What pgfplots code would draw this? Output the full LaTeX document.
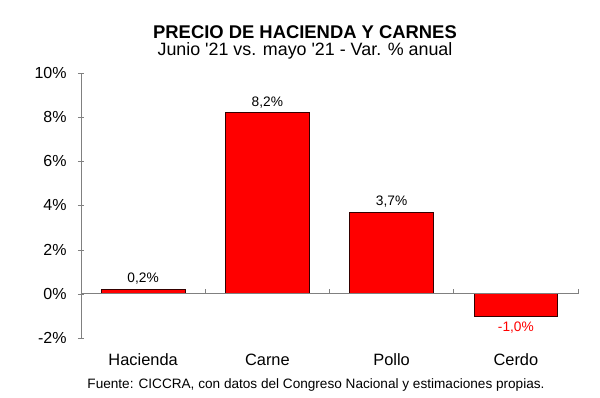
\documentclass[border=0pt]{standalone}
\usepackage{pgfplots}
\pgfplotsset{compat=1.18}
\usepackage{fontspec}
\setmainfont{Liberation Sans}
\definecolor{barred}{RGB}{255,0,0}
\definecolor{axgray}{RGB}{128,128,128}
\begin{document}
\begin{tikzpicture}
\path[use as bounding box] (0pt,0pt) rectangle (450pt,298.5pt);
\begin{axis}[
  at={(60.75pt,45pt)}, anchor=south west,
  scale only axis, width=372.75pt, height=198.75pt,
  xmin=-0.5, xmax=3.5, ymin=-2, ymax=10,
  xtick={0,1,2,3}, xticklabels={Hacienda,Carne,Pollo,Cerdo},
  major x tick style={draw=none},
  ytick={-2,0,2,4,6,8,10},
  yticklabel={\pgfmathprintnumber{\tick}\%},
  /pgf/number format/assume math mode=true,
  axis y line=left, axis x line=bottom,
  x axis line style={draw=none},
  y axis line style={axgray,-}, 
  ytick style={axgray},
  major tick length=4.5pt,
  y tick label style={font=\fontsize{12}{14}\selectfont, xshift=-5pt},
  x tick label style={font=\fontsize{12.3}{14}\selectfont, anchor=center, yshift=-12pt},
  clip=false,
  ybar, bar width=0.675, bar shift=0pt,
]
\addplot[fill=barred, draw=black!80!red, line width=0.6pt,
  nodes near coords={\pgfmathprintnumber[fixed,fixed zerofill,precision=1,use comma]{\pgfplotspointmeta}\%},
  every node near coord/.append style={font=\fontsize{10.3}{12}\selectfont, black, yshift=0pt}]
  coordinates {(0,0.2) (1,8.2) (2,3.7)};
\addplot[fill=barred, draw=black!80!red, line width=0.6pt,
  nodes near coords={\pgfmathprintnumber[fixed,fixed zerofill,precision=1,use comma]{\pgfplotspointmeta}\%},
  every node near coord/.append style={font=\fontsize{10.3}{12}\selectfont, barred, anchor=north, yshift=-0.5pt}]
  coordinates {(3,-1.0)};
\draw[axgray, line width=0.6pt] (axis cs:-0.5,0) -- (axis cs:3.5,0);
\draw[axgray, line width=0.6pt] (axis cs:-0.5,0) -- (axis cs:-0.5,0.2);
\draw[axgray, line width=0.6pt] (axis cs:0.5,0) -- (axis cs:0.5,0.2);
\draw[axgray, line width=0.6pt] (axis cs:1.5,0) -- (axis cs:1.5,0.2);
\draw[axgray, line width=0.6pt] (axis cs:2.5,0) -- (axis cs:2.5,0.2);
\draw[axgray, line width=0.6pt] (axis cs:3.5,0) -- (axis cs:3.5,0.2);
\end{axis}
\node[inner sep=0pt, font=\bfseries\fontsize{13.8}{16}\selectfont] at (228.75pt,274pt) {PRECIO DE HACIENDA Y CARNES};
\node[inner sep=0pt, font=\fontsize{13.4}{16}\selectfont] at (228.75pt,260.5pt) {Junio \textquotesingle 21 vs. mayo \textquotesingle 21 - Var. \% anual};
\node[font=\fontsize{10.2}{12}\selectfont] at (237pt,9.75pt) {Fuente: CICCRA, con datos del Congreso Nacional y estimaciones propias.};
\end{tikzpicture}
\end{document}
